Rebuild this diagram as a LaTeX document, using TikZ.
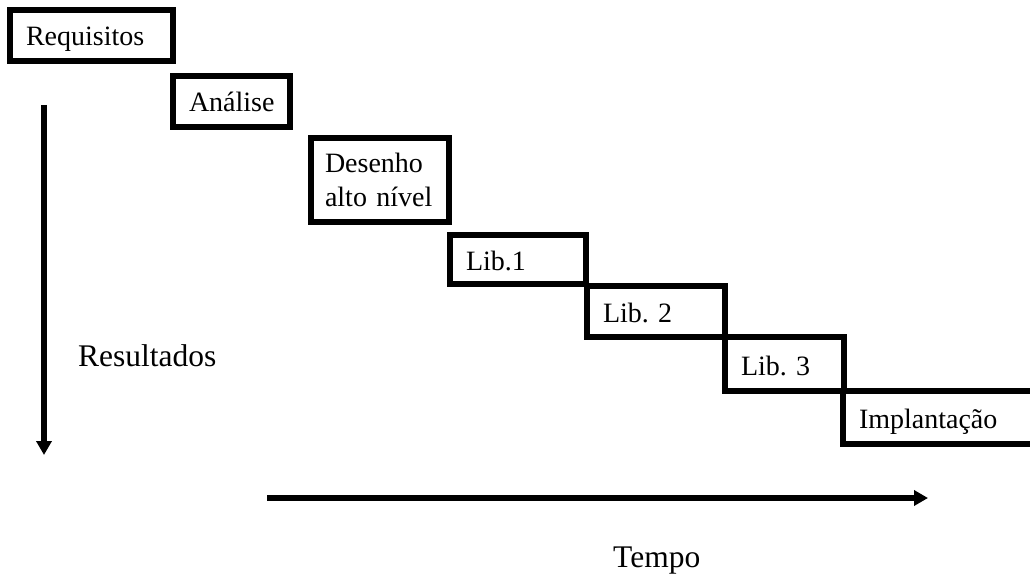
\documentclass[tikz,border=0pt]{standalone}
\usepackage{fontspec}
\setmainfont{Liberation Serif}
\usetikzlibrary{arrows.meta}

\tikzset{
  stage/.style={draw, line width=5.5pt, rectangle, inner xsep=16pt, inner ysep=0pt,
    align=left, text height=21pt, text depth=0pt,
    font=\fontsize{28}{34}\selectfont},
  axislabel/.style={anchor=base west, inner sep=0pt, font=\fontsize{31.5}{36}\selectfont},
  axis/.style={line width=6pt, -{Triangle[length=14pt,width=15pt]}}
}

\begin{document}
\begin{tikzpicture}[x=1pt, y=-1pt]
  \useasboundingbox (0,0) rectangle (1030,575);
  \clip (0,0) rectangle (1030,575);

  % waterfall of stages
  \node[stage, minimum width=163pt, minimum height=51pt, text width=131pt]
    (req) at (91.5,35.5) {Requisitos};
  \node[stage, minimum width=117pt, minimum height=51pt, text width=85pt]
    (ana) at (231.5,101.5) {Análise};
  \node[stage, minimum width=138pt, minimum height=84pt, inner xsep=14pt,
        text width=110pt, text height=19pt, text depth={}]
    (des) at (380,180) {Desenho\\alto nível};
  \node[stage, minimum width=136pt, minimum height=49pt, text width=104pt]
    (lib1) at (518,259.5) {Lib.1};
  \node[stage, minimum width=138pt, minimum height=51pt, text width=106pt]
    (lib2) at (656,311.5) {Lib.\ 2};
  \node[stage, minimum width=119pt, minimum height=54pt, text width=87pt,
        text height=23pt]
    (lib3) at (784.5,364) {Lib.\ 3};
  \node[stage, minimum width=257pt, minimum height=53pt, text width=225pt]
    (imp) at (971.5,417.5) {Implantação};

  % axes
  \coordinate (resTop) at (44,105);
  \coordinate (resEnd) at (44,455);
  \coordinate (timeStart) at (267,498);
  \coordinate (timeEnd) at (928,498);
  \draw[axis] (resTop) -- (resEnd);
  \draw[axis] (timeStart) -- (timeEnd);

  \node[axislabel] (res) at (78,366) {Resultados};
  \node[axislabel] (tempo) at (613,567) {Tempo};
\end{tikzpicture}
\end{document}
